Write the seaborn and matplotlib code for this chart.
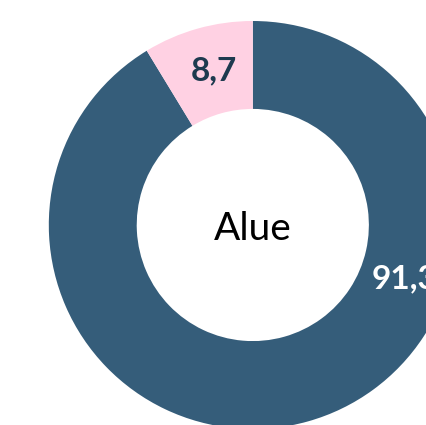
import numpy as np
import matplotlib
matplotlib.use('Agg')
import matplotlib.pyplot as plt
import seaborn as sns

# Osuudet (%)
labels = ['Muu', 'Alue']
values = [91.3, 8.7]
value_texts = ['91,3', '8,7']
colors = ['#355D7A', '#FFD1E3']
text_colors = ['white', '#1E3A4F']
center_text = 'Alue'

sns.set_theme(style='white')
plt.rcParams['font.family'] = ['Lato', 'DejaVu Sans']

fig = plt.figure(figsize=(4.27, 4.25), dpi=100)
ax = fig.add_axes([0, 0, 1, 1])

ring = 0.431
ax.pie(values, colors=colors, startangle=90, counterclock=False,
       radius=1, wedgeprops=dict(width=ring, linewidth=0))

# kulma (asteina myötäpäivään ylhäältä) arvotekstille
mid = 1 - ring / 2
angles = [110, 360 - values[1] / 100 * 360 / 2]
radii = [0.77, mid]
for txt, ang, r, c in zip(value_texts, angles, radii, text_colors):
    a = np.deg2rad(ang)
    ax.text(r * np.sin(a) + 0.02, r * np.cos(a), txt, ha='center', va='center',
            fontsize=24, fontweight='bold', color=c)

ax.text(0, -0.02, center_text, ha='center', va='center', fontsize=28, color='black')

ax.set_xlim(-252.8 / 204, (427 - 252.8) / 204)
ax.set_ylim(-200 / 204, 225 / 204)
ax.set_aspect('auto')
ax.axis('off')

fig.savefig('out.png', dpi=100)
